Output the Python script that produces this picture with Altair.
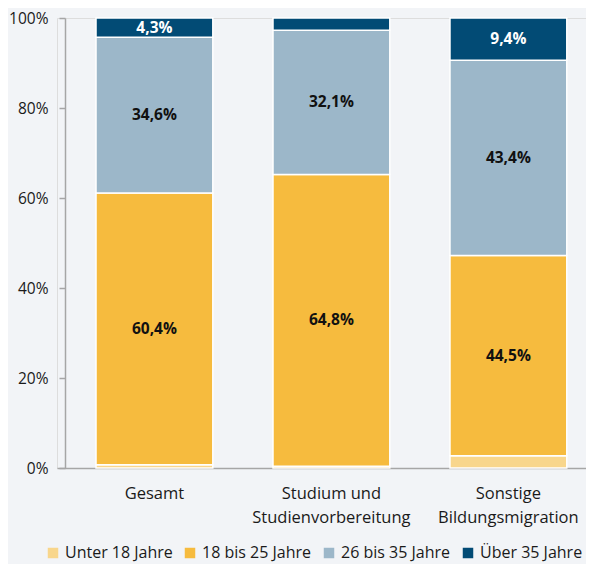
import altair as alt
import pandas as pd

categories = ["Gesamt", "Studium und|Studienvorbereitung", "Sonstige|Bildungsmigration"]
groups = ["Unter 18 Jahre", "18 bis 25 Jahre", "26 bis 35 Jahre", "Über 35 Jahre"]
colors = ["#f8d68c", "#f6bb3e", "#9cb7c9", "#024b75"]
unter18 = [0.7, 0.4, 2.7]
j18_25 = [60.4, 64.8, 44.5]
j26_35 = [34.6, 32.1, 43.4]
ueber35 = [4.3, 2.7, 9.4]
labels_unter18 = ["", "", ""]
labels_18_25 = ["60,4%", "64,8%", "44,5%"]
labels_26_35 = ["34,6%", "32,1%", "43,4%"]
labels_ueber35 = ["4,3%", "", "9,4%"]

rows = []
series = [unter18, j18_25, j26_35, ueber35]
lbls = [labels_unter18, labels_18_25, labels_26_35, labels_ueber35]
for gi, g in enumerate(groups):
    for ci, c in enumerate(categories):
        rows.append({"cat": c, "group": g, "idx": gi, "value": series[gi][ci], "label": lbls[gi][ci]})
df = pd.DataFrame(rows)

FONT = "Open Sans"

base = alt.Chart(df).transform_stack(
    stack="value", groupby=["cat"], as_=["y0", "y1"], sort=[alt.SortField("idx", "ascending")]
).transform_calculate(mid="(datum.y0 + datum.y1) / 2")

x = alt.X("cat:N", sort=categories, title=None,
          scale=alt.Scale(paddingInner=0.34, paddingOuter=0.1645, align=0.67),
          axis=alt.Axis(labelExpr="split(datum.label, '|')", labelAngle=0, ticks=False,
                        domainColor="#a6a6a6", domainWidth=1.5, labelFontSize=16.5,
                        labelColor="#1a1a1a", labelPadding=17, labelLineHeight=24,
                        labelBaseline="top"))

bars = base.mark_bar(stroke="white", strokeWidth=1.5).encode(
    x=x,
    y=alt.Y("y0:Q", title=None, scale=alt.Scale(domain=[0, 100], nice=False),
            axis=alt.Axis(values=[0, 20, 40, 60, 80, 100], labelExpr="datum.value + '%'",
                          grid=False, domainColor="#a6a6a6", domainWidth=1.5,
                          tickColor="#a6a6a6", tickWidth=1.5, tickSize=6, offset=-8,
                          labelFontSize=15.5, labelColor="#1a1a1a", labelPadding=11)),
    y2="y1:Q",
    color=alt.Color("group:N", sort=groups,
                    scale=alt.Scale(domain=groups, range=colors),
                    legend=alt.Legend(title=None, orient="none", direction="horizontal",
                                      legendX=-12, legendY=527, symbolType="square",
                                      symbolSize=110, symbolStrokeWidth=0, labelFontSize=16,
                                      labelColor="#1a1a1a", columnPadding=9, labelOffset=4,
                                      padding=0)),
)

text = base.mark_text(fontSize=15.5, fontWeight="bold", font=FONT).encode(
    x=alt.X("cat:N", sort=categories),
    y=alt.Y("mid:Q"),
    text="label:N",
    color=alt.condition("datum.idx == 3", alt.value("white"), alt.value("#111111")),
)

chart = alt.layer(bars, text).properties(
    width=529, height=450,
    padding={"left": 0, "top": 3, "right": 0, "bottom": 4},
    background="#f2f4f7",
).configure_view(stroke=None).configure(font=FONT)

chart.save("out.html", embed_options={"renderer": "svg", "actions": False})
